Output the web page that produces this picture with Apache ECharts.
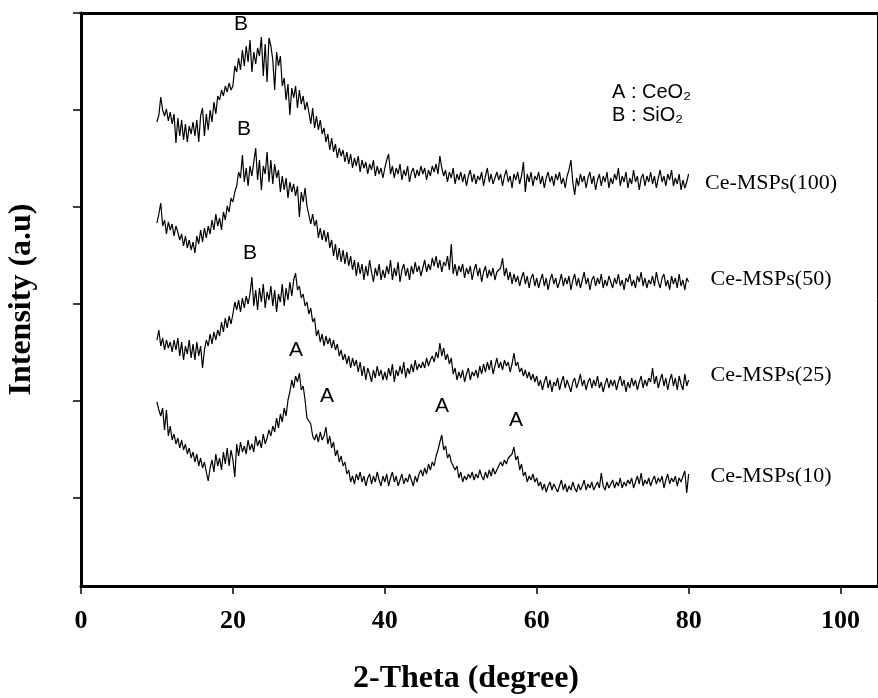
<!DOCTYPE html>
<html>
<head>
<meta charset="utf-8">
<title>XRD Ce-MSPs</title>
<script src="https://cdn.jsdelivr.net/npm/echarts@6.0.0/dist/echarts.min.js"></script>
<style>
html, body { margin: 0; padding: 0; background: #fff; }
#chart { width: 878px; height: 698px; }
</style>
</head>
<body>
<div id="chart"></div>
<script>
// scan: 10 - 80 deg, 0.25 deg step
var thetaStart = 10;
var thetaStep = 0.25;

// intensities (a.u., stacked)
var ce100 = [
  464,471,489,476,470,477,465,474,462,472,443,468,450,466,446,462,444,460,452,464,
  450,466,444,470,478,450,472,456,476,464,484,472,490,486,496,490,500,494,503,496,
  500,520,514,528,516,536,520,540,524,546,514,534,522,538,530,549,510,542,504,548,
  540,526,496,534,520,530,500,508,486,502,471,498,488,500,478,496,482,490,476,484,
  474,462,478,458,470,456,466,452,458,444,452,436,448,434,442,428,438,430,436,424,
  434,422,432,418,428,420,430,414,426,418,424,412,422,416,426,410,420,412,418,408,
  418,426,432,412,420,408,418,412,422,406,416,410,420,404,414,418,408,416,410,420,
  412,418,406,416,410,420,414,422,412,430,418,410,416,404,414,408,418,402,412,406,
  414,404,412,400,410,416,404,412,402,410,406,414,400,410,418,404,412,402,408,414,
  406,412,400,410,416,404,410,398,412,406,414,402,410,424,394,412,404,414,400,410,
  406,414,402,410,398,408,414,404,410,400,412,406,414,402,408,398,410,416,426,404,
  391,408,400,412,404,410,398,408,414,402,410,396,406,412,400,410,404,414,398,408,
  402,412,406,418,400,410,404,414,398,408,402,416,404,410,396,408,412,400,410,404,
  414,402,410,398,408,416,404,410,400,412,406,416,400,408,402,412,396,406,398,404,
  412
];
var ce50 = [
  363,372,383,360,366,352,364,356,362,350,360,354,346,352,340,350,338,346,336,344,
  333,350,342,356,344,358,348,360,352,366,356,372,360,368,356,374,366,380,374,388,
  384,394,400,414,408,431,404,418,400,420,410,424,438,406,426,396,420,412,434,404,
  426,402,422,408,416,394,410,396,408,388,404,394,402,390,400,369,394,384,398,380,
  378,362,372,360,366,348,358,346,356,344,354,338,346,330,342,326,338,324,336,322,
  334,320,330,316,326,310,324,312,322,306,320,310,326,314,304,318,310,322,306,316,
  308,320,312,326,306,318,310,324,304,316,322,310,318,306,320,312,324,314,320,310,
  318,326,314,322,316,328,320,330,318,326,314,324,320,330,316,342,312,322,310,320,
  314,322,308,318,312,320,306,316,322,310,318,304,314,320,308,316,310,318,306,314,
  312,318,328,310,318,306,314,302,312,304,310,300,308,314,302,310,298,308,312,300,
  308,298,306,312,300,308,296,306,312,302,308,298,304,312,300,308,302,310,296,306,
  312,300,308,298,306,314,302,308,296,306,310,300,308,302,312,298,306,300,310,304,
  298,308,302,312,300,306,296,308,304,312,300,306,298,310,304,314,300,308,298,306,
  302,310,300,314,304,298,308,312,300,306,296,310,302,308,298,312,300,306,296,308,
  304
];
var ce25 = [
  246,256,240,248,236,246,238,244,234,246,236,248,230,244,226,240,232,246,228,242,
  226,244,230,240,218,236,246,240,252,242,254,246,256,250,264,254,268,258,270,262,
  272,284,276,286,274,288,278,290,282,292,309,280,296,276,298,284,302,278,294,286,
  300,280,296,274,292,284,302,280,298,286,304,290,306,313,296,300,288,292,280,284,
  272,278,264,268,250,256,244,252,240,250,242,248,238,246,236,242,230,236,226,232,
  222,230,218,228,220,226,214,224,210,220,206,218,212,204,216,208,220,210,216,206,
  214,206,218,210,222,204,216,210,220,212,224,208,218,212,222,214,226,216,222,218,
  224,218,228,220,226,230,224,234,228,243,230,238,226,232,222,228,212,218,206,214,
  208,216,204,212,218,206,214,210,216,208,220,212,222,214,224,216,226,212,220,228,
  218,224,216,226,220,224,214,222,233,220,224,214,218,210,216,208,214,206,212,204,
  210,200,206,196,204,210,198,206,194,204,200,208,196,204,210,198,206,200,194,204,
  208,198,204,212,200,206,196,204,208,198,206,200,210,198,204,194,202,208,198,206,
  200,206,196,204,210,200,206,194,204,198,208,200,206,196,204,210,198,206,200,208,
  204,218,202,210,198,206,212,200,208,196,206,212,200,208,196,210,202,196,212,200,
  206
];
var ce10 = [
  184,176,170,178,156,176,150,160,146,152,142,148,138,146,136,142,132,138,128,134,
  124,132,120,128,118,124,114,105,118,126,114,132,120,128,116,134,122,138,120,136,
  126,109,142,130,144,134,140,132,146,136,142,134,150,140,146,138,152,142,148,156,
  150,160,154,168,158,172,164,178,170,186,194,206,198,210,204,213,196,200,186,168,
  166,162,150,146,152,144,154,146,150,159,142,150,138,144,130,136,124,130,120,124,
  112,116,104,110,102,112,106,114,104,110,100,108,112,102,110,104,114,106,100,110,
  104,112,100,108,114,104,110,100,106,112,102,108,104,112,106,100,110,104,112,116,
  110,118,112,122,116,124,120,130,136,144,151,136,140,128,132,124,126,116,120,108,
  114,104,110,106,112,108,114,106,112,108,116,110,106,114,108,116,110,118,112,116,
  118,124,120,126,122,128,126,132,139,126,130,116,122,110,114,104,110,106,112,104,
  108,100,104,96,102,94,100,104,96,102,98,94,100,106,96,102,94,100,96,104,
  98,94,102,96,100,106,96,102,98,104,96,100,104,98,113,100,96,104,98,102,
  106,98,104,100,108,98,104,100,106,102,108,98,104,110,102,113,100,106,102,108,
  100,106,110,102,108,104,110,98,106,112,102,108,104,110,100,108,104,110,115,93,
  112
];

var xTicks = [0, 20, 40, 60, 80, 100];
var yTicks = [88, 185, 282, 379, 476, 573];

var sampleNames = ['Ce-MSPs(100)', 'Ce-MSPs(50)', 'Ce-MSPs(25)', 'Ce-MSPs(10)'];
var peakLabels = ['B', 'B', 'B', 'A', 'A', 'A', 'A'];
var legendLines = ['A : CeO\u2082', 'B : SiO\u2082'];

var serif = '"Liberation Serif", "Times New Roman", serif';
var sans = '"Liberation Sans", Arial, sans-serif';

function toPairs(arr) {
  return arr.map(function (v, i) { return [thetaStart + i * thetaStep, v]; });
}

function lineSeries(name, arr) {
  return {
    name: name,
    type: 'line',
    data: toPairs(arr),
    showSymbol: false,
    symbol: 'none',
    silent: true,
    lineStyle: { color: '#000', width: 1.2 }
  };
}

function txt(x, y, s, font, align) {
  return {
    type: 'text', x: x, y: y, silent: true, z: 100,
    style: { text: s, font: font, fill: '#000', align: align || 'center', verticalAlign: 'middle' }
  };
}

var myChart = echarts.init(document.getElementById('chart'));

var option = {
  animation: false,
  backgroundColor: '#fff',
  grid: { left: 81, right: 1, top: 13, bottom: 112, outerBoundsMode: 'none', containLabel: false },
  xAxis: [{
    type: 'value', min: 0, max: 104.8, position: 'bottom',
    axisLine: { show: true, onZero: false, lineStyle: { color: '#000', width: 3 } },
    axisTick: { show: true, length: 8, customValues: xTicks, lineStyle: { color: '#000', width: 1.5 } },
    axisLabel: { customValues: xTicks, margin: 22, color: '#000', fontSize: 26, fontWeight: 'bold', fontFamily: serif },
    splitLine: { show: false },
    name: '2-Theta (degree)', nameLocation: 'middle', nameGap: 77,
    nameTextStyle: { color: '#000', fontSize: 32, fontWeight: 'bold', fontFamily: serif, padding: [0, 26, 0, 0] }
  }, {
    type: 'value', min: 0, max: 104.8, position: 'top',
    axisLine: { show: true, onZero: false, lineStyle: { color: '#000', width: 3 } },
    axisTick: { show: false }, axisLabel: { show: false }, splitLine: { show: false }
  }],
  yAxis: [{
    type: 'value', min: 0, max: 573, position: 'left',
    axisLine: { show: true, onZero: false, lineStyle: { color: '#000', width: 3 } },
    axisTick: { show: true, length: 8, customValues: yTicks, lineStyle: { color: '#000', width: 1.5 } },
    axisLabel: { show: false },
    splitLine: { show: false },
    name: 'Intensity (a.u)', nameLocation: 'middle', nameGap: 43,
    nameTextStyle: { color: '#000', fontSize: 32, fontWeight: 'bold', fontFamily: serif }
  }, {
    type: 'value', min: 0, max: 573, position: 'right',
    axisLine: { show: true, onZero: false, lineStyle: { color: '#000', width: 1 } },
    axisTick: { show: false }, axisLabel: { show: false }, splitLine: { show: false }
  }],
  series: [
    lineSeries(sampleNames[0], ce100),
    lineSeries(sampleNames[1], ce50),
    lineSeries(sampleNames[2], ce25),
    lineSeries(sampleNames[3], ce10)
  ],
  graphic: [
    txt(241, 24, peakLabels[0], '21px ' + sans),
    txt(244, 129, peakLabels[1], '21px ' + sans),
    txt(250, 253, peakLabels[2], '21px ' + sans),
    txt(296, 350, peakLabels[3], '21px ' + sans),
    txt(327, 396, peakLabels[4], '21px ' + sans),
    txt(442, 406, peakLabels[5], '21px ' + sans),
    txt(516, 420, peakLabels[6], '21px ' + sans),
    txt(612, 92, legendLines[0], '20px ' + sans, 'left'),
    txt(612, 115, legendLines[1], '20px ' + sans, 'left'),
    txt(771, 183, sampleNames[0], '22px ' + serif),
    txt(771, 279, sampleNames[1], '22px ' + serif),
    txt(771, 375, sampleNames[2], '22px ' + serif),
    txt(771, 476, sampleNames[3], '22px ' + serif)
  ]
};

myChart.setOption(option);
</script>
</body>
</html>
